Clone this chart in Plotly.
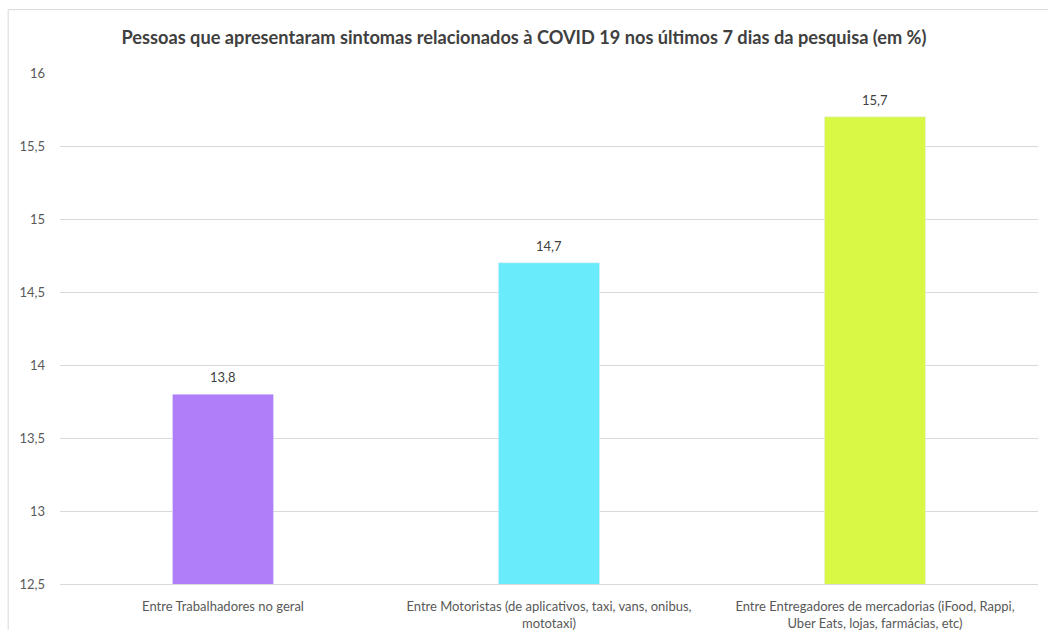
import plotly.graph_objects as go

categories = [
    "Entre Trabalhadores no geral",
    "Entre Motoristas (de aplicativos, taxi, vans, onibus,<br>mototaxi)",
    "Entre Entregadores de mercadorias (iFood, Rappi,<br>Uber Eats, lojas, farmácias, etc)",
]
values = [13.8, 14.7, 15.7]
labels = ["13,8", "14,7", "15,7"]
colors = ["#B07EF8", "#6AEBFB", "#D8F845"]
tick_vals = [12.5, 13, 13.5, 14, 14.5, 15, 15.5, 16]

fig = go.Figure(go.Bar(
    x=categories, y=values, marker_color=colors, width=0.31,
))

for c, v, t in zip(categories, values, labels):
    fig.add_annotation(x=c, y=v, text=t, showarrow=False, yanchor="bottom", yshift=7,
                       font=dict(size=13, color="#404040", family="Lato"))

fig.update_layout(
    width=1048, height=630,
    margin=dict(l=60, r=10, t=73, b=46),
    paper_bgcolor="white", plot_bgcolor="white",
    separators=",.",
    font=dict(family="Lato", color="#595959", size=12),
    title=dict(text="<b>Pessoas que apresentaram sintomas relacionados à COVID 19 nos últimos 7 dias da pesquisa (em %)</b>",
               x=0.5, xanchor="center", y=0.94, yanchor="middle", automargin=False,
               font=dict(size=18.2, color="#404040", family="Lato")),
    showlegend=False,
    shapes=[dict(type="rect", xref="paper", yref="paper", x0=-0.053, x1=1.05, y0=-0.2, y1=1.124,
                 line=dict(color="#d9d9d9", width=1), fillcolor="rgba(0,0,0,0)", layer="below")],
)
fig.update_yaxes(range=[12.5, 16], tickvals=tick_vals, showgrid=True, gridcolor="#d9d9d9",
                 zeroline=False, showline=False, ticks="", ticklabelstandoff=14, automargin=False,
                 tickfont=dict(size=13, color="#595959"))
fig.update_xaxes(showline=True, linecolor="#d9d9d9", ticks="", ticklabelstandoff=10, automargin=False,
                 tickfont=dict(size=13, color="#595959"))

fig.write_html("out.html")
